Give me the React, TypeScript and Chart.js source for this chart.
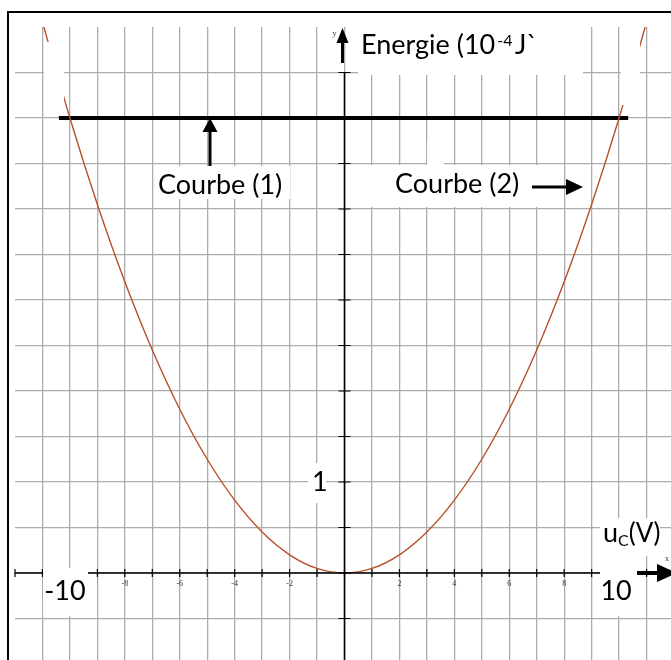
import React, { useEffect, useRef } from "react";
import { Chart, registerables } from "chart.js";

Chart.register(...registerables);

// Voltage across the capacitor, u_C (V)
const uValues = [-10.95, -10, -9, -8, -7, -6, -5, -4, -3, -2, -1, 0, 1, 2, 3, 4, 5, 6, 7, 8, 9, 10, 10.95];
// Energy stored in the capacitor, courbe (2), in 10^-4 J
const energyValues = [6.0, 5.0, 4.05, 3.2, 2.45, 1.8, 1.25, 0.8, 0.45, 0.2, 0.05, 0, 0.05, 0.2, 0.45, 0.8, 1.25, 1.8, 2.45, 3.2, 4.05, 5.0, 6.0];
// Total energy, courbe (1), constant
const totalU = [-10.4, 10.33];
const totalE = [5, 5];
// Small graduation labels on the u_C axis
const xTickLabels = [-8, -6, -4, -2, 2, 4, 6, 8];

const W = 680;
const H = 670;
const GRID = "rgb(172,172,172)";
const CURVE = "#b8502a";
const FONT = 'Lato, "Open Sans", sans-serif';
const BIG = 27;

function arrow(ctx: CanvasRenderingContext2D, x1: number, y1: number, x2: number, y2: number, shaft: number, headLen: number, headW: number) {
  const a = Math.atan2(y2 - y1, x2 - x1);
  const bx = x2 - headLen * Math.cos(a);
  const by = y2 - headLen * Math.sin(a);
  ctx.lineWidth = shaft;
  ctx.beginPath();
  ctx.moveTo(x1, y1);
  ctx.lineTo(bx, by);
  ctx.stroke();
  ctx.beginPath();
  ctx.moveTo(x2, y2);
  ctx.lineTo(bx + (headW / 2) * Math.sin(a), by - (headW / 2) * Math.cos(a));
  ctx.lineTo(bx - (headW / 2) * Math.sin(a), by + (headW / 2) * Math.cos(a));
  ctx.closePath();
  ctx.fill();
}

export default function App() {
  const ref = useRef<HTMLCanvasElement>(null);

  useEffect(() => {
    const canvas = ref.current;
    if (!canvas) return;

    const curve = uValues.map((u, i) => ({ x: u, y: energyValues[i] }));
    const flat = totalU.map((u, i) => ({ x: u, y: totalE[i] }));

    const overlay = {
      id: "overlay",
      afterDatasetsDraw(chart: any) {
        const ctx: CanvasRenderingContext2D = chart.ctx;
        const X = (u: number) => chart.scales.x.getPixelForValue(u);
        const Y = (e: number) => chart.scales.y.getPixelForValue(e);
        ctx.save();
        ctx.strokeStyle = "#000";
        ctx.fillStyle = "#000";
        ctx.lineCap = "butt";

        // axes
        ctx.lineWidth = 1.6;
        ctx.beginPath();
        ctx.moveTo(X(-12), Y(0));
        ctx.lineTo(X(10.5), Y(0));
        ctx.moveTo(X(0), Y(5.5));
        ctx.lineTo(X(0), H);
        ctx.stroke();

        // graduations
        ctx.lineWidth = 1.2;
        ctx.beginPath();
        for (let u = -12; u <= 11; u++) {
          ctx.moveTo(X(u), Y(0) - 4);
          ctx.lineTo(X(u), Y(0) + 4);
        }
        for (let e = -1; e <= 5.5; e += 0.5) {
          ctx.moveTo(X(0) - 6, Y(e));
          ctx.lineTo(X(0) + 6, Y(e));
        }
        ctx.stroke();

        // white label backgrounds
        ctx.fillStyle = "#fff";
        const boxes: [number, number, number, number][] = [
          [44, 42, 20, 60],
          [621, 43, 19, 62],
          [358, 20, 225, 55],
          [155, 166, 135, 33],
          [352, 165, 210, 42],
          [427, 140, 17, 25],
          [308, 463, 18, 40],
          [43, 568, 45, 48],
          [600, 556, 37, 60],
          [600, 518, 60, 38],
        ];
        for (const [bx, by, bw, bh] of boxes) ctx.fillRect(bx, by, bw, bh);

        // small graduation numbers
        ctx.fillStyle = "#333";
        ctx.font = '8px "Liberation Serif", serif';
        ctx.textAlign = "center";
        ctx.textBaseline = "middle";
        for (const v of xTickLabels) ctx.fillText(String(v), X(v), Y(0) + 11);
        ctx.fillText("y", X(0) - 10, 34);
        ctx.fillText("x", 667, Y(0) - 14);

        // labels
        ctx.fillStyle = "#000";
        ctx.textBaseline = "alphabetic";
        ctx.textAlign = "left";
        ctx.font = `${BIG}px ${FONT}`;
        ctx.fillText("Energie (10", 361, 54);
        let w = ctx.measureText("Energie (10").width;
        ctx.font = `16px ${FONT}`;
        ctx.fillText("-4", 361 + w + 2, 46);
        ctx.font = `${BIG}px ${FONT}`;
        ctx.fillText("J`", 515, 54);

        ctx.fillText("Courbe (1)", 158, 194);
        ctx.fillText("Courbe (2)", 395, 193);
        ctx.fillText("1", 312, 491);
        ctx.textAlign = "center";
        ctx.fillText("-10", X(-10) - 5, 600);
        ctx.fillText("10", X(10) - 3, 600);
        ctx.textAlign = "left";
        ctx.fillText("u", 603, 542);
        w = ctx.measureText("u").width;
        ctx.font = `16px ${FONT}`;
        ctx.fillText("C", 603 + w, 546);
        const wc = ctx.measureText("C").width;
        ctx.font = `${BIG - 1}px ${FONT}`;
        ctx.fillText("(V)", 603 + w + wc, 542);

        // arrows
        ctx.strokeStyle = "#000";
        ctx.fillStyle = "#000";
        arrow(ctx, 210, 166, 210, 118, 3, 14, 15);
        arrow(ctx, 532, 187, 583, 187, 3, 17, 16);
        arrow(ctx, X(0) - 2, 63, X(0) - 2, 28, 3, 15, 12);
        arrow(ctx, 637, Y(0), 677, Y(0), 4, 20, 18);

        // frame
        ctx.lineWidth = 2;
        ctx.beginPath();
        ctx.moveTo(8, H);
        ctx.lineTo(8, 12);
        ctx.lineTo(W, 12);
        ctx.stroke();
        ctx.restore();
      },
    };

    const chart = new Chart(canvas, {
      type: "line",
      data: {
        datasets: [
          {
            label: "Courbe (2)",
            data: curve,
            borderColor: CURVE,
            borderWidth: 1.4,
            pointRadius: 0,
            cubicInterpolationMode: "monotone",
            fill: false,
          },
          {
            label: "Courbe (1)",
            data: flat,
            borderColor: "#000",
            borderWidth: 4,
            pointRadius: 0,
            fill: false,
          },
        ],
      },
      options: {
        responsive: false,
        animation: false,
        devicePixelRatio: 1,
        events: [],
        layout: { padding: { left: 15, top: 27, right: 6, bottom: 6 }, autoPadding: false },
        plugins: { legend: { display: false }, tooltip: { enabled: false } },
        scales: {
          x: {
            type: "linear",
            min: -12,
            max: 12,
            ticks: { display: false, stepSize: 1 },
            border: { display: false },
            grid: {
              drawTicks: false,
              lineWidth: 1.3,
              color: (c: any) => (Math.abs(c.tick?.value ?? 0) >= 12 ? "rgba(0,0,0,0)" : GRID),
            },
          },
          y: {
            type: "linear",
            min: -1,
            max: 6,
            ticks: { display: false, stepSize: 0.5 },
            border: { display: false },
            grid: {
              drawTicks: false,
              lineWidth: 1.3,
              color: (c: any) => ((c.tick?.value ?? 0) >= 6 ? "rgba(0,0,0,0)" : GRID),
            },
          },
        },
      },
      plugins: [overlay],
    } as any);

    return () => chart.destroy();
  }, []);

  return (
    <div style={{ position: "fixed", left: 0, top: 0, width: 671, height: 660, overflow: "hidden", background: "#fff" }}>
      <canvas ref={ref} width={W} height={H} style={{ width: W, height: H, display: "block" }} />
    </div>
  );
}
